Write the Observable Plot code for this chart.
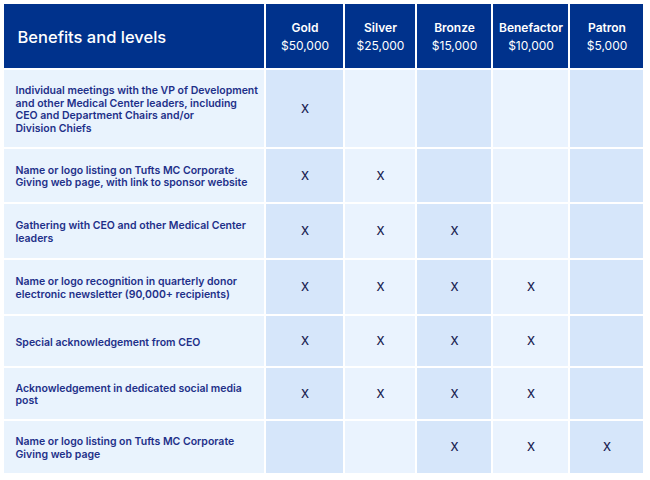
<!DOCTYPE html>
<html><head><meta charset="utf-8">
<script src="https://cdn.jsdelivr.net/npm/d3@7"></script>
<script src="https://cdn.jsdelivr.net/npm/@observablehq/plot@0.6"></script>
<style>
html,body{margin:0;padding:0;background:#fff;}
svg{display:block;font-family:Inter,"Noto Sans",sans-serif;}
</style></head>
<body><div id="chart"></div>
<script>
const title = "Benefits and levels";
const levels = ["Gold", "Silver", "Bronze", "Benefactor", "Patron"];
const prices = ["$50,000", "$25,000", "$15,000", "$10,000", "$5,000"];
const benefits = [
  "Individual meetings with the VP of Development\nand other Medical Center leaders, including\nCEO and Department Chairs and/or\nDivision Chiefs",
  "Name or logo listing on Tufts MC Corporate\nGiving web page, with link to sponsor website",
  "Gathering with CEO and other Medical Center\nleaders",
  "Name or logo recognition in quarterly donor\nelectronic newsletter (90,000+ recipients)",
  "Special acknowledgement from CEO",
  "Acknowledgement in dedicated social media\npost",
  "Name or logo listing on Tufts MC Corporate\nGiving web page"
];
// which levels include each benefit
const included = [
  ["Gold"],
  ["Gold", "Silver"],
  ["Gold", "Silver", "Bronze"],
  ["Gold", "Silver", "Bronze", "Benefactor"],
  ["Gold", "Silver", "Bronze", "Benefactor"],
  ["Gold", "Silver", "Bronze", "Benefactor"],
  ["Bronze", "Benefactor", "Patron"]
];

// layout (pixels)
const colW = [262, 79, 72, 76, 77, 75];
const rowH = [66, 79, 55, 56, 56, 52, 53, 54];
const padL = 4, padT = 4, gap = 2;
const colX = [padL]; colW.forEach((w, i) => colX.push(colX[i] + w));
const rowY = [padT]; rowH.forEach((h, i) => rowY.push(rowY[i] + h));

const navy = "#00328C";
const lightA = "#EAF3FE";
const lightB = "#D6E6FA";

const cells = [];
for (let c = 0; c < 6; c++) cells.push({x1: colX[c], x2: colX[c+1] - gap, y1: rowY[0], y2: rowY[1] - gap, fill: navy});
benefits.forEach((b, r) => {
  for (let c = 0; c < 6; c++) {
    const fill = c === 0 ? "#E9F3FD" : (c % 2 === 1 ? lightB : lightA);
    cells.push({x1: colX[c], x2: colX[c+1] - gap, y1: rowY[r+1], y2: rowY[r+2] - gap, fill});
  }
});

const colCenter = i => (colX[i+1] + colX[i] - gap) / 2;
const rowCenter = r => (rowY[r+1] + rowY[r] - gap) / 2;

const headerNames = levels.map((l, i) => ({x: colCenter(i+1), y: rowY[0] + 24, text: l}));
const headerPrices = prices.map((p, i) => ({x: colCenter(i+1), y: rowY[0] + 42, text: p}));
const benefitTexts = benefits.map((b, r) => ({x: colX[0] + 11, y: rowCenter(r+1), text: b}));
const xMarks = [];
included.forEach((lv, r) => lv.forEach(l => xMarks.push({x: colCenter(levels.indexOf(l) + 1), y: rowCenter(r+1), text: "X"})));

const chart = Plot.plot({
  width: 650, height: 480, margin: 0,
  x: {domain: [0, 650], range: [0, 650], axis: null},
  y: {domain: [0, 480], range: [0, 480], axis: null},
  marks: [
    Plot.rect(cells, {x1: "x1", x2: "x2", y1: "y1", y2: "y2", fill: d => d.fill}),
    Plot.text([{x: colX[0] + 13, y: rowCenter(0) + 1, text: title}], {x: "x", y: "y", text: "text", textAnchor: "start", fill: "white", fontSize: 16.5, fontWeight: 500}),
    Plot.text(headerNames, {x: "x", y: "y", text: "text", fill: "white", fontSize: 12, fontWeight: 600}),
    Plot.text(headerPrices, {x: "x", y: "y", text: "text", fill: "white", fontSize: 12, fontWeight: 400}),
    Plot.text(benefitTexts, {x: "x", y: "y", text: "text", textAnchor: "start", fill: "#1E3089", fontSize: 10.5, fontWeight: 600, lineHeight: 1.2}),
    Plot.text(xMarks, {x: "x", y: "y", text: "text", fill: "#1A2352", fontSize: 11.5, fontWeight: 500})
  ]
});
document.getElementById("chart").append(chart);
</script>
</body></html>
